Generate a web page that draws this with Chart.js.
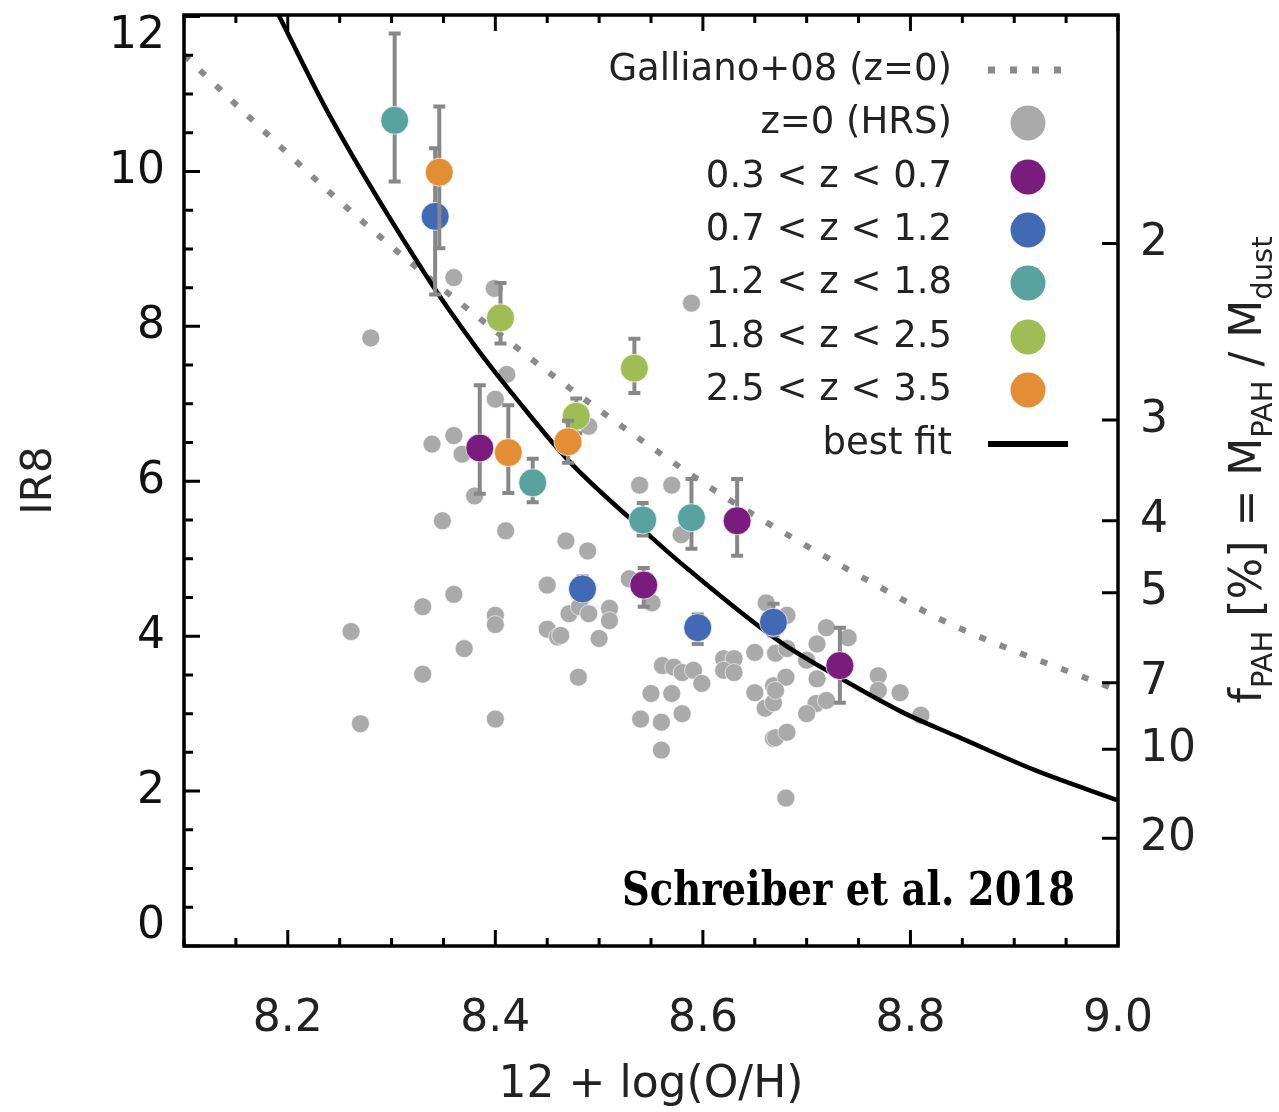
<!DOCTYPE html>
<html><head><meta charset="utf-8">
<script src="https://cdn.jsdelivr.net/npm/chart.js@4.4.1/dist/chart.umd.min.js"></script>
<style>html,body{margin:0;padding:0;background:#fff;}#wrap{width:1279px;height:1112px;}</style>
</head><body><div id="wrap"><canvas id="c" width="1279" height="1112"></canvas></div>
<script>
// ---------------- data ----------------
const xTicks = [8.2, 8.4, 8.6, 8.8, 9.0];
const yTicks = [0, 2, 4, 6, 8, 10, 12];
const fpahPos = [9.07, 6.79, 5.49, 4.56, 3.40, 2.54, 1.39];
const fpahLabels = ['2', '3', '4', '5', '7', '10', '20'];

const hrsX = [8.280,8.360,8.399,8.411,8.400,8.339,8.360,8.368,8.380,8.349,
  8.410,8.468,8.489,8.450,8.330,8.360,8.261,8.400,8.400,8.370,
  8.450,8.460,8.330,8.270,8.400,8.480,8.529,8.551,8.471,8.481,
  8.490,8.510,8.510,8.463,8.500,8.561,8.572,8.580,8.591,8.599,
  8.620,8.630,8.620,8.630,8.650,8.550,8.570,8.580,8.540,8.560,
  8.560,8.650,8.660,8.668,8.668,8.668,8.661,8.681,8.719,8.740,
  8.710,8.670,8.681,8.700,8.710,8.680,8.670,8.769,8.769,8.790,
  8.810,8.709,8.719,8.700,8.670,8.681,8.680,8.589,8.490,8.539,
  8.570,8.579];
const hrsY = [7.85,8.63,8.49,7.38,7.06,6.48,6.59,6.35,5.81,5.49,
  5.36,5.23,5.10,4.66,4.38,4.54,4.06,4.27,4.15,3.84,
  4.09,3.99,3.51,2.87,2.93,3.47,4.74,4.43,4.29,4.38,
  4.29,4.36,4.20,4.01,3.97,3.62,3.60,3.53,3.56,3.39,
  3.71,3.71,3.56,3.53,3.79,3.26,3.26,3.00,2.93,2.89,
  2.53,3.27,3.07,3.36,3.14,2.68,4.43,4.27,4.11,3.98,
  3.90,3.78,3.84,3.69,3.45,3.47,3.30,3.49,3.30,3.27,
  2.98,3.13,3.17,3.00,2.69,2.76,1.91,8.30,6.71,5.95,
  5.95,5.31];

const z1X = [8.385, 8.543, 8.633, 8.732];
const z1Y = [6.43, 4.66, 5.49, 3.62];
const z1Lo = [5.84, 4.38, 5.04, 3.14];
const z1Hi = [7.24, 4.88, 6.03, 4.11];

const z2X = [8.342, 8.484, 8.595, 8.668];
const z2Y = [9.42, 4.61, 4.11, 4.18];
const z2Lo = [8.41, 4.45, 3.90, 4.01];
const z2Hi = [10.30, 4.77, 4.28, 4.42];

const z3X = [8.303, 8.436, 8.542, 8.589];
const z3Y = [10.66, 5.98, 5.50, 5.53];
const z3Lo = [9.87, 5.73, 5.30, 5.13];
const z3Hi = [11.78, 6.29, 5.72, 6.03];

const z4X = [8.405, 8.478, 8.534];
const z4Y = [8.11, 6.84, 7.46];
const z4Lo = [7.78, 6.62, 7.14];
const z4Hi = [8.56, 7.07, 7.84];

const z5X = [8.346, 8.4125, 8.470];
const z5Y = [9.99, 6.37, 6.51];
const z5Lo = [9.01, 5.85, 6.24];
const z5Hi = [10.84, 6.98, 6.78];

const bestFitX = [8.19, 8.24, 8.337, 8.382, 8.420, 8.471, 8.551, 8.587, 8.673, 8.731, 8.795, 8.846, 8.92, 9.0];
const bestFitY = [12.05, 10.73, 8.58, 7.72, 7.07, 6.26, 5.27, 4.85, 3.94, 3.47, 3.00, 2.70, 2.27, 1.88];

const gallianoX = [8.1, 8.243, 8.308, 8.358, 8.459, 8.545, 8.615, 8.670, 8.763, 8.838, 9.0];
const gallianoY = [11.5, 9.70, 8.94, 8.39, 7.33, 6.49, 5.85, 5.40, 4.69, 4.16, 3.30];

const seriesLabels = ['Galliano+08 (z=0)', 'z=0 (HRS)', '0.3 < z < 0.7', '0.7 < z < 1.2',
  '1.2 < z < 1.8', '1.8 < z < 2.5', '2.5 < z < 3.5', 'best fit'];
const xTitle = '12 + log(O/H)';
const yTitle = 'IR8';
const credit = 'Schreiber et al. 2018';

// ---------------- styles ----------------
const C = {grey:'#aaaaaa', purple:'#7a1c7e', blue:'#4169b4', teal:'#58a3a0', green:'#9fbd54', orange:'#e38e34', err:'#888888', dots:'#8a8a8a'};
const FONT = 'DejaVu Sans';
const pts = (xs, ys) => xs.map((v, i) => ({x: v, y: ys[i]}));

function zSet(label, xs, ys, lo, hi, color, order){
  return {label, data: pts(xs, ys), errLo: lo, errHi: hi, backgroundColor: color,
    borderColor: 'rgba(255,255,255,0.7)', borderWidth: 1, pointRadius: 14, pointHoverRadius: 14, order};
}

const datasets = [
  {label: seriesLabels[1], data: pts(hrsX, hrsY), backgroundColor: C.grey, borderColor: 'rgba(255,255,255,0.6)',
    borderWidth: 1, pointRadius: 9, pointHoverRadius: 9, order: 20},
  {label: seriesLabels[0], data: pts(gallianoX, gallianoY), showLine: true, pointRadius: 0, borderColor: C.dots,
    borderWidth: 6, borderDash: [7, 15], borderCapStyle: 'butt', cubicInterpolationMode: 'monotone', fill: false, order: 19},
  {label: seriesLabels[7], data: pts(bestFitX, bestFitY), showLine: true, pointRadius: 0, borderColor: '#000',
    borderWidth: 4.5, cubicInterpolationMode: 'monotone', fill: false, order: 18},
  zSet(seriesLabels[2], z1X, z1Y, z1Lo, z1Hi, C.purple, 5),
  zSet(seriesLabels[3], z2X, z2Y, z2Lo, z2Hi, C.blue, 4),
  zSet(seriesLabels[4], z3X, z3Y, z3Lo, z3Hi, C.teal, 3),
  zSet(seriesLabels[5], z4X, z4Y, z4Lo, z4Hi, C.green, 2),
  zSet(seriesLabels[6], z5X, z5Y, z5Lo, z5Hi, C.orange, 1),
];

// error bars drawn just before each redshift dataset
const errorBars = {
  id: 'errorBars',
  beforeDatasetDraw(chart, args){
    const ds = chart.data.datasets[args.index];
    if (!ds.errLo) return;
    const {ctx, scales:{x, y}} = chart;
    ctx.save();
    ctx.strokeStyle = C.err; ctx.lineWidth = 4; ctx.lineCap = 'butt';
    ds.data.forEach((p, i) => {
      const px = x.getPixelForValue(p.x);
      const yl = y.getPixelForValue(ds.errLo[i]);
      const yh = y.getPixelForValue(ds.errHi[i]);
      ctx.beginPath();
      ctx.moveTo(px, yl); ctx.lineTo(px, yh);
      ctx.moveTo(px - 6, yl); ctx.lineTo(px + 6, yl);
      ctx.moveTo(px - 6, yh); ctx.lineTo(px + 6, yh);
      ctx.stroke();
    });
    ctx.restore();
  }
};

// frame + inward ticks + legend + annotations
const decor = {
  id: 'decor',
  afterDraw(chart){
    const {ctx, chartArea: a, scales: {x, y, y2}} = chart;
    ctx.save();
    ctx.strokeStyle = '#000'; ctx.lineWidth = 3;
    ctx.beginPath();
    for (let k = 0; k <= 24; k++){
      const v = k * 0.5; const p = y.getPixelForValue(v);
      if (p < a.top - 0.5) continue;
      const len = (k % 4 === 0) ? 16 : 9;
      ctx.moveTo(a.left, p); ctx.lineTo(a.left + len, p);
    }
    for (let k = 162; k <= 180; k++){
      const v = k / 20; const p = x.getPixelForValue(v);
      if (p < a.left - 0.5 || p > a.right + 0.5) continue;
      const len = (k % 4 === 0) ? 16 : 8;
      ctx.moveTo(p, a.bottom); ctx.lineTo(p, a.bottom - len);
      ctx.moveTo(p, a.top); ctx.lineTo(p, a.top + len);
    }
    fpahPos.forEach(v => { const p = y2.getPixelForValue(v); ctx.moveTo(a.right, p); ctx.lineTo(a.right - 16, p); });
    ctx.stroke();
    ctx.lineWidth = 3.5;
    ctx.strokeRect(a.left, a.top, a.right - a.left, a.bottom - a.top);

    // legend
    const lx = 952, mx = 1028, rows = [70, 123, 177, 230, 283, 337, 390, 444];
    ctx.font = '37px "' + FONT + '"'; ctx.fillStyle = '#222'; ctx.textAlign = 'right'; ctx.textBaseline = 'middle';
    seriesLabels.forEach((t, i) => ctx.fillText(t, lx, rows[i]));
    ctx.strokeStyle = C.dots; ctx.lineWidth = 7; ctx.setLineDash([7, 15]); ctx.lineCap = 'butt';
    ctx.beginPath(); ctx.moveTo(988, rows[0]); ctx.lineTo(1068, rows[0]); ctx.stroke();
    ctx.setLineDash([]);
    const mc = [C.grey, C.purple, C.blue, C.teal, C.green, C.orange];
    mc.forEach((c, i) => { ctx.fillStyle = c; ctx.beginPath(); ctx.arc(mx, rows[i + 1], 17.5, 0, Math.PI * 2); ctx.fill(); });
    ctx.strokeStyle = '#000'; ctx.lineWidth = 6;
    ctx.beginPath(); ctx.moveTo(988, rows[7]); ctx.lineTo(1068, rows[7]); ctx.stroke();

    // credit (heavy slab serif, condensed to the reference width)
    ctx.save();
    ctx.font = 'bold 46px "DejaVu Serif"'; ctx.fillStyle = '#000';
    ctx.textAlign = 'left'; ctx.textBaseline = 'alphabetic';
    const cw = ctx.measureText(credit).width;
    const targetW = 453;
    ctx.translate(1075 - targetW, 905); ctx.scale(targetW / cw, 1);
    ctx.fillText(credit, 0, 0);
    ctx.restore();

    // right axis title with subscripts
    const parts = [['f', 0], ['PAH', 1], [' [%] = M', 0], ['PAH', 1], [' / M', 0], ['dust', 1]];
    const big = '44px "' + FONT + '"', small = '29px "' + FONT + '"';
    let w = 0;
    parts.forEach(p => { ctx.font = p[1] ? small : big; w += ctx.measureText(p[0]).width; });
    ctx.translate(1261, 470); ctx.rotate(-Math.PI / 2);
    ctx.fillStyle = '#222'; ctx.textAlign = 'left'; ctx.textBaseline = 'alphabetic';
    let cx = -w / 2;
    parts.forEach(p => { ctx.font = p[1] ? small : big; ctx.fillText(p[0], cx, p[1] ? 11 : 0); cx += ctx.measureText(p[0]).width; });
    ctx.restore();
  }
};

const tickFont = {family: FONT, size: 44, lineHeight: 0.9};
const noPadV = s => { s.paddingTop = 0; s.paddingBottom = 0; };

new Chart(document.getElementById('c'), {
  type: 'scatter',
  data: {datasets},
  plugins: [errorBars, decor],
  options: {
    responsive: false, animation: false, devicePixelRatio: 1,
    layout: {padding: {top: 14, left: 0, right: 0, bottom: 0}},
    plugins: {legend: {display: false}, tooltip: {enabled: false}},
    scales: {
      x: {
        type: 'linear', position: 'bottom', min: 8.1, max: 9.0,
        afterFit: s => { s.height = 166; s.paddingLeft = 0; s.paddingRight = 0; },
        afterBuildTicks: s => { s.ticks = xTicks.map(v => ({value: v})); },
        grid: {display: false, drawTicks: false}, border: {display: false},
        ticks: {font: tickFont, color: '#222', padding: 54, autoSkip: false, maxRotation: 0,
          callback: v => v.toFixed(1)},
        title: {display: true, text: xTitle, color: '#222', font: {family: FONT, size: 44, lineHeight: 1.2}, padding: {top: 0, bottom: 0}}
      },
      y: {
        type: 'linear', position: 'left', min: 0, max: 12.02,
        afterFit: s => { s.width = 184; noPadV(s); },
        afterBuildTicks: s => { s.ticks = yTicks.map(v => ({value: v})); },
        grid: {display: false, drawTicks: false}, border: {display: false},
        ticks: {font: tickFont, color: '#111', padding: 19, autoSkip: false,
          callback: v => v === 12 ? ['', '12'] : (v === 0 ? ['0', ''] : String(v))},
        title: {display: true, text: yTitle, color: '#222', font: {family: FONT, size: 42, lineHeight: 1.2}, padding: {top: 15, bottom: 0}}
      },
      y2: {
        type: 'linear', position: 'right', min: 0, max: 12.02,
        afterFit: s => { s.width = 161; noPadV(s); },
        afterBuildTicks: s => { s.ticks = fpahPos.map(v => ({value: v})); },
        grid: {display: false, drawTicks: false}, border: {display: false},
        ticks: {font: tickFont, color: '#222', padding: 22, autoSkip: false,
          callback: (v, i) => fpahLabels[i]}
      }
    }
  }
});
</script></body></html>
